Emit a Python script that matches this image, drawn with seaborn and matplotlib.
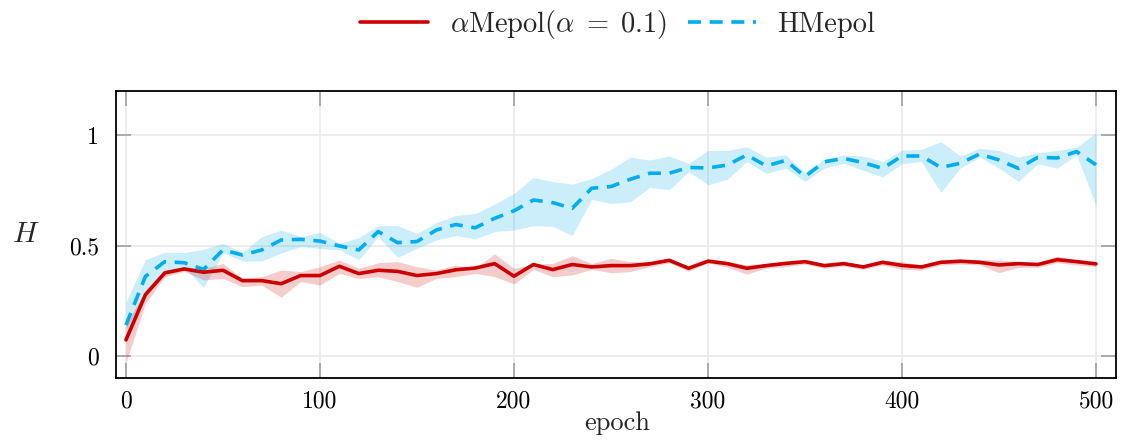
import numpy as np
import pandas as pd
import matplotlib
matplotlib.use("Agg")
import matplotlib.pyplot as plt
import seaborn as sns

# ---------------- data ----------------
epochs = list(range(0, 501, 10))

alpha_mean = [0.073, 0.277, 0.376, 0.394, 0.379, 0.388, 0.341, 0.341, 0.327, 0.364,
              0.364, 0.406, 0.373, 0.388, 0.383, 0.364, 0.373, 0.390, 0.398, 0.418,
              0.361, 0.414, 0.391, 0.414, 0.403, 0.409, 0.409, 0.417, 0.433, 0.397,
              0.429, 0.418, 0.397, 0.409, 0.419, 0.427, 0.409, 0.418, 0.403, 0.424,
              0.410, 0.403, 0.424, 0.429, 0.424, 0.412, 0.418, 0.414, 0.436, 0.427,
              0.417]
alpha_low = [-0.03, 0.238, 0.359, 0.383, 0.344, 0.351, 0.314, 0.321, 0.266, 0.337,
             0.321, 0.374, 0.351, 0.359, 0.337, 0.311, 0.351, 0.359, 0.374, 0.359,
             0.326, 0.392, 0.359, 0.367, 0.392, 0.377, 0.382, 0.404, 0.422, 0.383,
             0.422, 0.401, 0.371, 0.397, 0.404, 0.416, 0.397, 0.407, 0.392, 0.412,
             0.392, 0.389, 0.412, 0.416, 0.412, 0.377, 0.401, 0.401, 0.422, 0.412,
             0.404]
alpha_high = [0.14, 0.299, 0.389, 0.403, 0.397, 0.419, 0.351, 0.359, 0.389, 0.382,
              0.404, 0.434, 0.397, 0.422, 0.427, 0.404, 0.389, 0.412, 0.397, 0.462,
              0.397, 0.416, 0.419, 0.454, 0.419, 0.442, 0.427, 0.427, 0.441, 0.407,
              0.442, 0.427, 0.412, 0.419, 0.427, 0.434, 0.416, 0.427, 0.412, 0.434,
              0.427, 0.412, 0.434, 0.437, 0.437, 0.434, 0.427, 0.422, 0.452, 0.434,
              0.422]

h_mean = [0.14, 0.36, 0.427, 0.422, 0.392, 0.48, 0.457, 0.48, 0.525, 0.528,
          0.52, 0.498, 0.48, 0.563, 0.513, 0.518, 0.57, 0.595, 0.58, 0.623,
          0.657, 0.706, 0.694, 0.668, 0.759, 0.767, 0.80, 0.827, 0.827, 0.853,
          0.851, 0.864, 0.91, 0.86, 0.885, 0.812, 0.879, 0.894, 0.875, 0.849,
          0.905, 0.905, 0.853, 0.872, 0.914, 0.887, 0.849, 0.899, 0.896, 0.925,
          0.865]
h_low = [0.12, 0.285, 0.383, 0.40, 0.31, 0.467, 0.43, 0.43, 0.466, 0.495,
         0.487, 0.48, 0.436, 0.54, 0.446, 0.487, 0.525, 0.545, 0.53, 0.563,
         0.57, 0.59, 0.587, 0.545, 0.709, 0.69, 0.698, 0.763, 0.752, 0.834,
         0.775, 0.80, 0.88, 0.826, 0.85, 0.79, 0.85, 0.872, 0.84, 0.81,
         0.87, 0.88, 0.74, 0.85, 0.90, 0.85, 0.79, 0.87, 0.85, 0.91,
         0.68]
h_high = [0.245, 0.436, 0.47, 0.468, 0.483, 0.51, 0.47, 0.54, 0.57, 0.54,
          0.56, 0.51, 0.535, 0.59, 0.59, 0.555, 0.604, 0.636, 0.645, 0.687,
          0.736, 0.808, 0.789, 0.778, 0.803, 0.845, 0.90, 0.887, 0.905, 0.872,
          0.93, 0.93, 0.947, 0.90, 0.91, 0.83, 0.89, 0.91, 0.905, 0.88,
          0.932, 0.935, 0.97, 0.905, 0.94, 0.93, 0.90, 0.92, 0.93, 0.945,
          1.01]

x_ticks = [0, 100, 200, 300, 400, 500]
y_ticks = [0, 0.5, 1]
y_tick_labels = ["0", "0.5", "1"]

label_alpha = r"$\alpha$Mepol$(\alpha\;=\;0.1)$"
label_h = "HMepol"

RED = "#CC0000"
BLUE = "#00AEEF"

# ---------------- style ----------------
sns.set_theme(style="white")
plt.rcParams["font.family"] = ["cmr10", "DejaVu Serif"]
plt.rcParams["mathtext.fontset"] = "cm"
plt.rcParams["axes.formatter.use_mathtext"] = True
plt.rcParams["axes.unicode_minus"] = False

fig = plt.figure(figsize=(11.25, 4.43), dpi=100)
ax = fig.add_axes([0.1031, 0.146, 0.8889, 0.6485])

df_a = pd.DataFrame({"epoch": epochs, "H": alpha_mean})
df_h = pd.DataFrame({"epoch": epochs, "H": h_mean})

ax.fill_between(epochs, h_low, h_high, color=BLUE, alpha=0.2, linewidth=0, zorder=1)
ax.fill_between(epochs, alpha_low, alpha_high, color=RED, alpha=0.2, linewidth=0, zorder=1)

sns.lineplot(data=df_h, x="epoch", y="H", ax=ax, color=BLUE, linewidth=2.6,
             linestyle=(0, (3.6, 2.4)), errorbar=None, label=label_h, zorder=3)
sns.lineplot(data=df_a, x="epoch", y="H", ax=ax, color=RED, linewidth=2.6,
             errorbar=None, label=label_alpha, zorder=4)

ax.set_xlim(-5.15, 510.3)
ax.set_ylim(-0.101, 1.199)
ax.set_xticks(x_ticks)
ax.set_xticklabels([str(v) for v in x_ticks])
ax.set_yticks(y_ticks)
ax.set_yticklabels(y_tick_labels)

ax.grid(True, color="#E8E8E8", linewidth=1.1, zorder=0)
ax.set_axisbelow(True)
for s in ax.spines.values():
    s.set_color("black")
    s.set_linewidth(1.3)
    s.set_visible(True)

ax.tick_params(axis="both", which="major", direction="in", length=11, width=1.2,
               color="#A0A0A0", labelcolor="black", labelsize=17,
               top=True, right=True, bottom=True, left=True)
ax.tick_params(axis="x", pad=9)
ax.tick_params(axis="y", pad=12)

ax.set_xlabel("epoch", fontsize=19)
ax.xaxis.set_label_coords(0.501, -0.115)
ax.set_ylabel(r"$H$", fontsize=21, rotation=0)
ax.yaxis.set_label_coords(-0.09, 0.5)
ax.yaxis.label.set_verticalalignment("center")
ax.yaxis.label.set_horizontalalignment("center")

# legend
handles, labels = ax.get_legend_handles_labels()
order = [labels.index(label_alpha), labels.index(label_h)]
if ax.get_legend() is not None:
    ax.get_legend().remove()
fig.legend([handles[i] for i in order], [labels[i] for i in order],
           loc="center", bbox_to_anchor=(0.549, 0.944), ncol=2, frameon=False,
           fontsize=20.5, handlelength=2.4, handletextpad=0.75, columnspacing=0.75,
           borderaxespad=0)

fig.savefig("out.png", dpi=100)
